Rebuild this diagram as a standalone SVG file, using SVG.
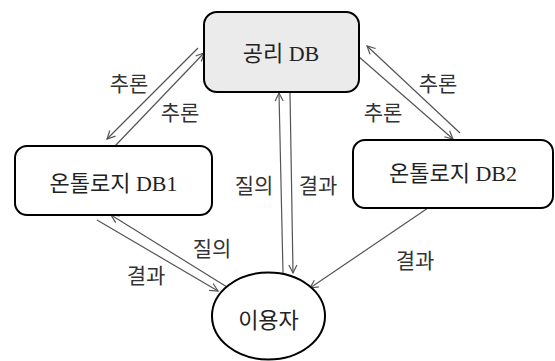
<svg xmlns="http://www.w3.org/2000/svg" width="555" height="361" viewBox="0 0 555 361">
<style>
.node{stroke:#000;stroke-width:2;fill:#fff}
.gray{fill:#ebebeb}
.ntext{font-family:"Liberation Serif","Noto Sans CJK KR",serif;font-size:22px;fill:#222;text-anchor:middle}
.lbl{font-family:"Noto Sans CJK KR",sans-serif;font-size:21px;fill:#333;text-anchor:middle}
.conn line{stroke:#555;stroke-width:1.2;fill:none;marker-end:url(#ah)}
</style>
<defs>
<marker id="ah" markerUnits="userSpaceOnUse" markerWidth="12" markerHeight="12" refX="9" refY="5" orient="auto">
<path d="M1,1 L9,5 L1,9" fill="none" stroke="#555" stroke-width="1.2"/>
</marker>
</defs>
<g id="connectors" class="conn">
<line x1="198" y1="48" x2="107" y2="139"/>
<line x1="115" y1="146" x2="204" y2="53"/>
<line x1="358" y1="56" x2="453" y2="139"/>
<line x1="460" y1="133" x2="367" y2="46"/>
<line x1="283" y1="273" x2="279" y2="93"/>
<line x1="290" y1="93" x2="293" y2="273"/>
<line x1="227" y1="287" x2="111" y2="215"/>
<line x1="97" y1="220" x2="218" y2="291"/>
<line x1="428" y1="208" x2="310" y2="288"/>
</g>
<g id="labels">
<text class="lbl" x="129" y="91">추론</text>
<text class="lbl" x="180" y="120">추론</text>
<text class="lbl" x="438" y="91">추론</text>
<text class="lbl" x="383" y="120">추론</text>
<text class="lbl" x="254" y="193">질의</text>
<text class="lbl" x="318" y="193">결과</text>
<text class="lbl" x="212" y="256">질의</text>
<text class="lbl" x="146" y="283">결과</text>
<text class="lbl" x="415" y="268">결과</text>
</g>
<g id="node-axiom">
<rect class="node gray" x="204" y="12" width="155" height="80" rx="13"/>
<text class="ntext" x="281" y="61">공리 DB</text>
</g>
<g id="node-db1">
<rect class="node" x="15" y="146" width="197" height="69" rx="12"/>
<text class="ntext" x="113.5" y="191">온톨로지 DB1</text>
</g>
<g id="node-db2">
<rect class="node" x="353" y="140" width="200" height="68" rx="12"/>
<text class="ntext" x="453" y="181">온톨로지 DB2</text>
</g>
<g id="node-user">
<ellipse class="node" cx="268.5" cy="316" rx="56.5" ry="43.5"/>
<text class="ntext" x="268.5" y="328">이용자</text>
</g>
</svg>
